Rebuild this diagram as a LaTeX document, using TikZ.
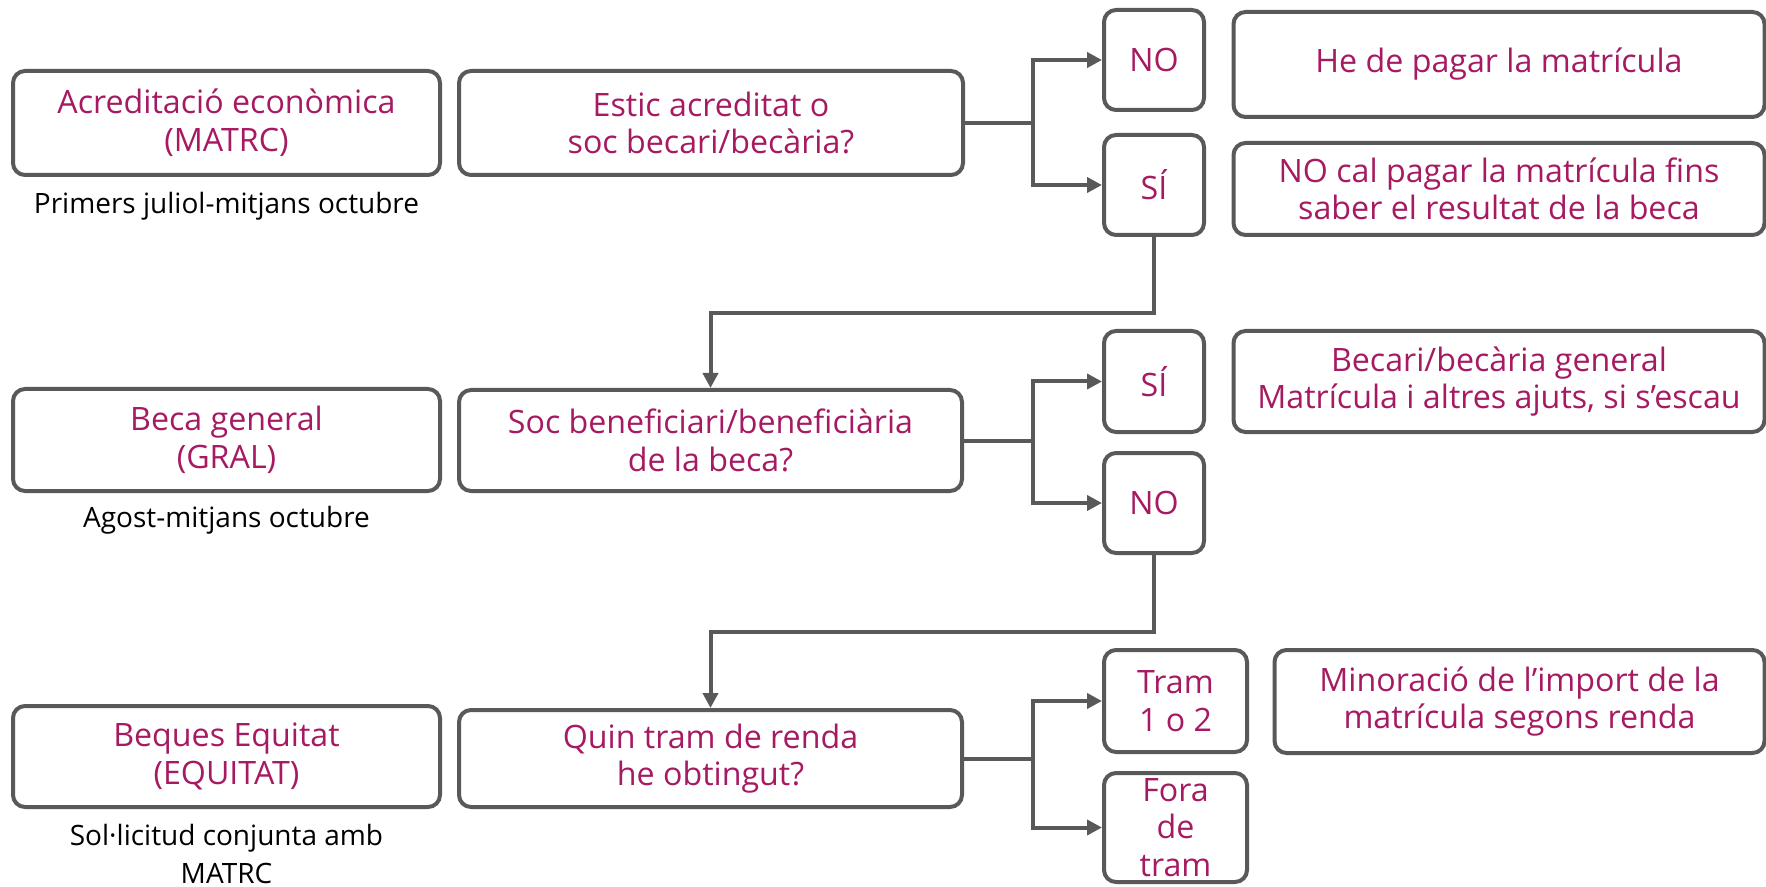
\documentclass[tikz,border=0pt]{standalone}
\usepackage{fontspec}
\setmainfont{Open Sans}
\usetikzlibrary{arrows.meta}
\definecolor{mag}{RGB}{166,26,98}
\definecolor{lgray}{RGB}{89,89,89}
\tikzset{
  box/.style={draw=lgray, line width=2pt, rounded corners=6pt, align=center,
    text=mag, inner sep=0pt, font=\fontsize{16.1}{18.8}\selectfont},
  txt/.style={align=center, text=mag, inner sep=0pt, font=\fontsize{16.1}{18.8}\selectfont},
  note/.style={align=center, text=black, inner sep=0pt, font=\fontsize{14}{19}\selectfont},
  conn/.style={draw=lgray, line width=2pt},
  arr/.style={conn, -{Triangle[length=7.5pt,width=7.5pt]}}
}
\begin{document}
\begin{tikzpicture}[x=0.5pt,y=-0.5pt]
\useasboundingbox (0,0) rectangle (1766,887);
% row 1
\node[box, minimum width=213.5pt, minimum height=52pt] (A1) at (226.5,123) {Acreditació econòmica\\(MATRC)};
\node[box, minimum width=252pt, minimum height=52pt] (Q1) at (711,123) {Estic acreditat o\\soc becari/becària?};
\node[box, minimum width=50pt, minimum height=50pt] (NO1) at (1154,60) {NO};
\node[box, minimum width=265.5pt, minimum height=52.5pt] (PAY) at (1499,64.5) {He de pagar la matrícula};
\node[box, minimum width=50pt, minimum height=50pt] (SI1) at (1154,185) {SÍ};
\node[box, minimum width=265.5pt, minimum height=46pt] (NOCAL) at (1499,189) {NO cal pagar la matrícula fins\\saber el resultat de la beca};
\node[note] (N1) at (226.5,206) {Primers juliol-mitjans octubre};
% row 2
\node[box, minimum width=213.5pt, minimum height=51pt] (A2) at (226.5,440) {Beca general\\(GRAL)};
\node[box, minimum width=251.5pt, minimum height=50.5pt] (Q2) at (710.5,440.5) {Soc beneficiari/beneficiària\\de la beca?};
\node[box, minimum width=50pt, minimum height=50.5pt] (SI2) at (1154,381.5) {SÍ};
\node[box, minimum width=265.5pt, minimum height=50.5pt] (BEC) at (1499,381.5) {Becari/becària general\\Matrícula i altres ajuts, si s’escau};
\node[box, minimum width=50pt, minimum height=50pt] (NO2) at (1154,503) {NO};
\node[note] (N2) at (226.5,520) {Agost-mitjans octubre};
% row 3
\node[box, minimum width=213.5pt, minimum height=50.5pt] (A3) at (226.5,756.5) {Beques Equitat\\(EQUITAT)};
\node[box, minimum width=251.5pt, minimum height=48.5pt] (Q3) at (710.5,758.5) {Quin tram de renda\\he obtingut?};
\node[box, minimum width=71.5pt, minimum height=51pt] (TRAM) at (1175.5,701) {Tram\\1 o 2};
\node[box, minimum width=245pt, minimum height=51.5pt] (MIN) at (1519.5,701.5) {Minoració de l’import de la\\matrícula segons renda};
\node[box, minimum width=71.5pt, minimum height=54.5pt] (FORA) at (1175.5,827.5) {};
\node[txt] (FORAT) at (FORA.center) {Fora\\de\\tram};
\node[note] (N3) at (226.5,854) {Sol·licitud conjunta amb\\MATRC};
% connectors
\coordinate (b1) at (1033,123);
\coordinate (b2) at (1033,440.5);
\coordinate (b3) at (1033,758.5);
\coordinate (j1) at (1154,313);
\coordinate (j2) at (1154,632);
\draw[arr] (Q1.east) -- (b1) |- (NO1.west);
\draw[arr] (b1) |- (SI1.west);
\draw[arr] (Q2.east) -- (b2) |- (SI2.west);
\draw[arr] (b2) |- (NO2.west);
\draw[arr] (Q3.east) -- (b3) |- (TRAM.west);
\draw[arr] (b3) |- (FORA.west);
\draw[arr] (SI1.south) -- (j1) -| (Q2.north);
\draw[arr] (NO2.south) -- (j2) -| (Q3.north);
\end{tikzpicture}
\end{document}
